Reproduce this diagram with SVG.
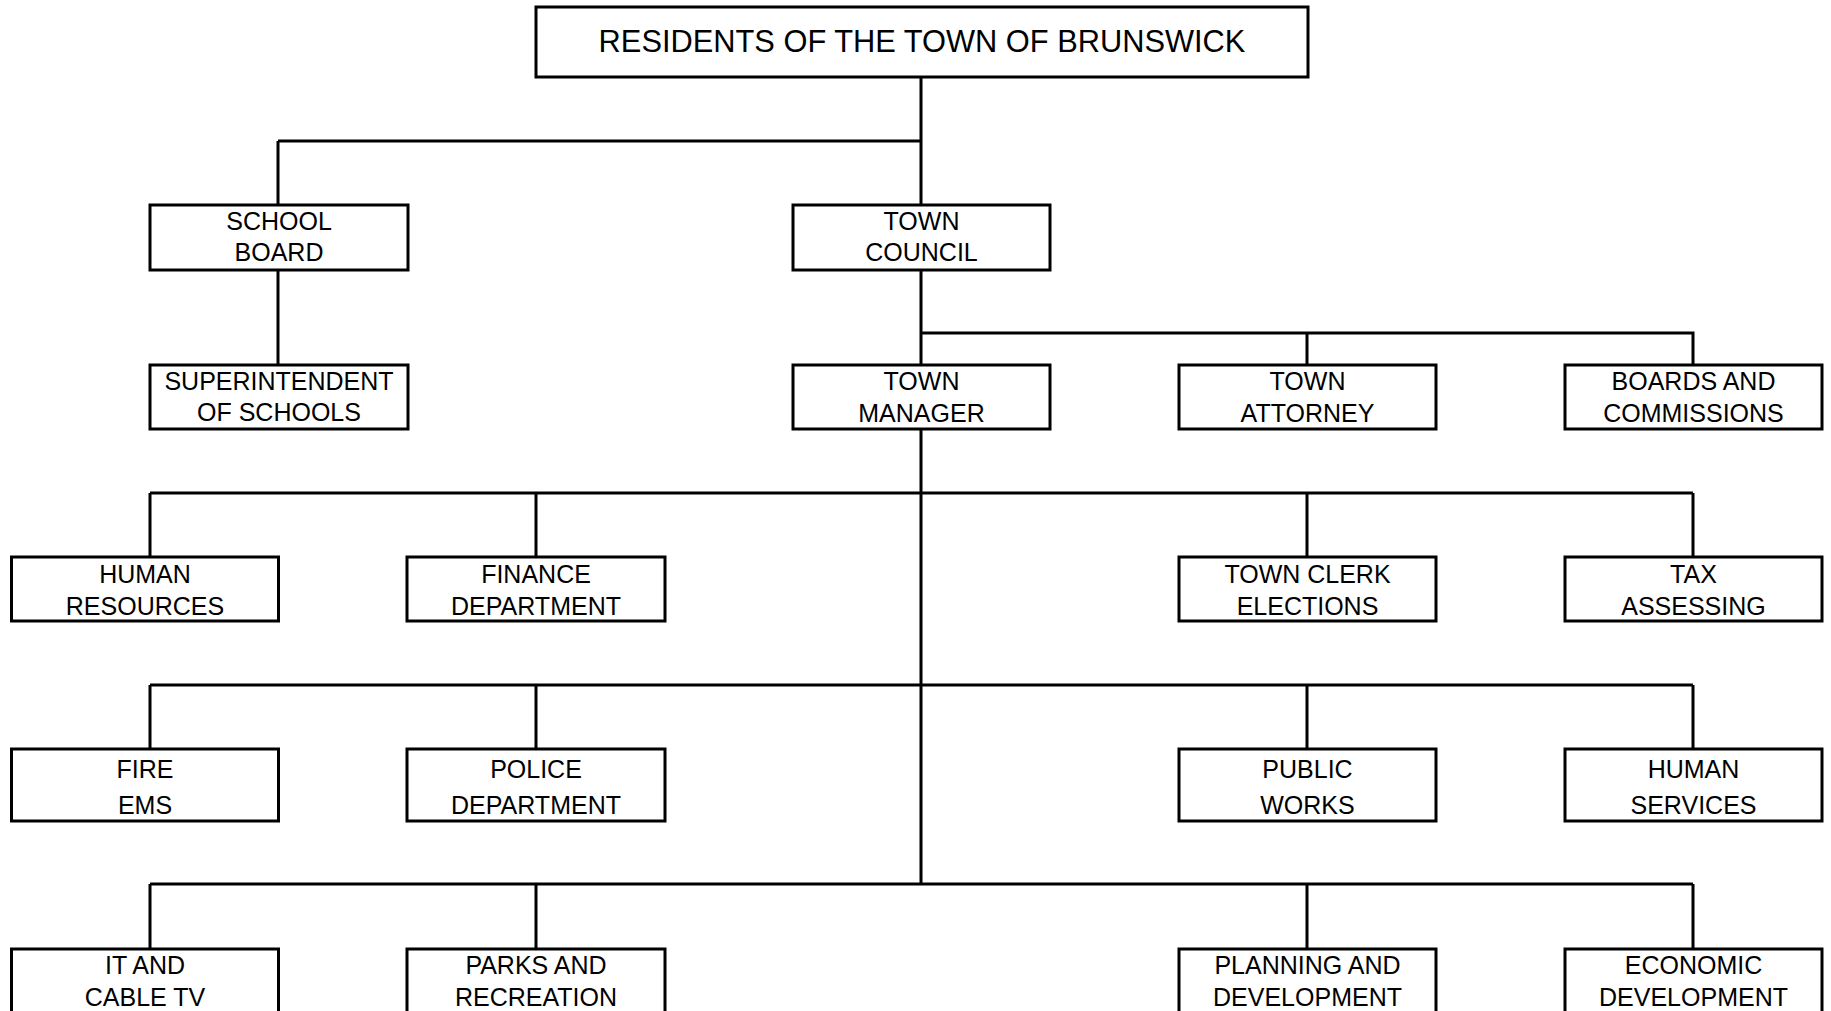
<svg xmlns="http://www.w3.org/2000/svg" width="1831" height="1011" viewBox="0 0 1831 1011">
<style>
.box{fill:#fff;stroke:#000;stroke-width:3}
.ln{fill:none;stroke:#000;stroke-width:3}
text{font-family:"Liberation Sans",Arial,sans-serif;font-size:25px;fill:#000;text-anchor:middle}
.title{font-size:30.8px}
</style>
<rect width="1831" height="1011" fill="#fff"/>
<g id="connectors">
<path class="ln" d="M921 77V884"/>
<path class="ln" d="M278 141H922M278 141V205"/>
<path class="ln" d="M278 270V365"/>
<path class="ln" d="M921 333H1693V365M1307 333V365"/>
<path class="ln" d="M150 493H1693M150 493V557M536 493V557M1307 493V557M1693 493V557"/>
<path class="ln" d="M150 685H1693M150 685V749M536 685V749M1307 685V749M1693 685V749"/>
<path class="ln" d="M150 884H1693M150 884V949M536 884V949M1307 884V949M1693 884V949"/>
</g>
<g id="residents"><rect class="box" x="536" y="7" width="772" height="70"/><text class="title" x="922" y="52">RESIDENTS OF THE TOWN OF BRUNSWICK</text></g>
<g id="school-board"><rect class="box" x="150" y="205" width="258" height="65"/><text x="279" y="230">SCHOOL</text><text x="279" y="261">BOARD</text></g>
<g id="town-council"><rect class="box" x="793" y="205" width="257" height="65"/><text x="921.5" y="230">TOWN</text><text x="921.5" y="261">COUNCIL</text></g>
<g id="superintendent"><rect class="box" x="150" y="365" width="258" height="64"/><text x="279" y="390">SUPERINTENDENT</text><text x="279" y="421">OF SCHOOLS</text></g>
<g id="town-manager"><rect class="box" x="793" y="365" width="257" height="64"/><text x="921.5" y="390">TOWN</text><text x="921.5" y="422">MANAGER</text></g>
<g id="town-attorney"><rect class="box" x="1179" y="365" width="257" height="64"/><text x="1307.5" y="390">TOWN</text><text x="1307.5" y="422">ATTORNEY</text></g>
<g id="boards"><rect class="box" x="1565" y="365" width="257" height="64"/><text x="1693.5" y="390">BOARDS AND</text><text x="1693.5" y="422">COMMISSIONS</text></g>
<g id="human-resources"><rect class="box" x="11.5" y="557" width="267" height="64"/><text x="145" y="583">HUMAN</text><text x="145" y="615">RESOURCES</text></g>
<g id="finance"><rect class="box" x="407" y="557" width="258" height="64"/><text x="536" y="583">FINANCE</text><text x="536" y="615">DEPARTMENT</text></g>
<g id="town-clerk"><rect class="box" x="1179" y="557" width="257" height="64"/><text x="1307.5" y="583">TOWN CLERK</text><text x="1307.5" y="615">ELECTIONS</text></g>
<g id="tax"><rect class="box" x="1565" y="557" width="257" height="64"/><text x="1693.5" y="583">TAX</text><text x="1693.5" y="615">ASSESSING</text></g>
<g id="fire"><rect class="box" x="11.5" y="749" width="267" height="72"/><text x="145" y="778">FIRE</text><text x="145" y="814">EMS</text></g>
<g id="police"><rect class="box" x="407" y="749" width="258" height="72"/><text x="536" y="778">POLICE</text><text x="536" y="814">DEPARTMENT</text></g>
<g id="public-works"><rect class="box" x="1179" y="749" width="257" height="72"/><text x="1307.5" y="778">PUBLIC</text><text x="1307.5" y="814">WORKS</text></g>
<g id="human-services"><rect class="box" x="1565" y="749" width="257" height="72"/><text x="1693.5" y="778">HUMAN</text><text x="1693.5" y="814">SERVICES</text></g>
<g id="it"><rect class="box" x="11.5" y="949" width="267" height="80"/><text x="145" y="974">IT AND</text><text x="145" y="1006">CABLE TV</text></g>
<g id="parks"><rect class="box" x="407" y="949" width="258" height="80"/><text x="536" y="974">PARKS AND</text><text x="536" y="1006">RECREATION</text></g>
<g id="planning"><rect class="box" x="1179" y="949" width="257" height="80"/><text x="1307.5" y="974">PLANNING AND</text><text x="1307.5" y="1006">DEVELOPMENT</text></g>
<g id="economic"><rect class="box" x="1565" y="949" width="257" height="80"/><text x="1693.5" y="974">ECONOMIC</text><text x="1693.5" y="1006">DEVELOPMENT</text></g>
</svg>
